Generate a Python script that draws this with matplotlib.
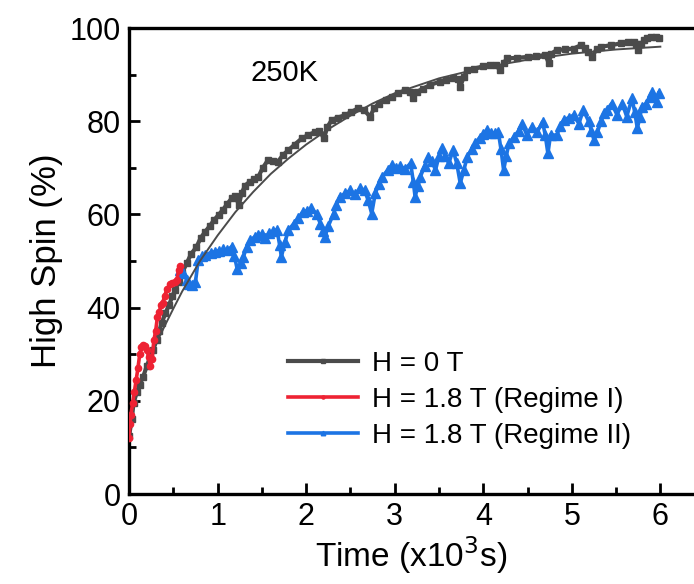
import matplotlib
matplotlib.use('Agg')
import matplotlib.pyplot as plt
from matplotlib.ticker import MultipleLocator

# H = 0 T data (time in 10^3 s, high spin %)
t_zero = [0.00, 0.03, 0.05, 0.09, 0.12, 0.16, 0.20, 0.24, 0.27, 0.31, 0.34, 0.37,
          0.41, 0.45, 0.49, 0.52, 0.56, 0.60, 0.65, 0.70, 0.76, 0.81, 0.86, 0.91,
          0.96, 1.01, 1.06, 1.11, 1.16, 1.20, 1.24, 1.27, 1.31, 1.36, 1.41, 1.46,
          1.51, 1.57, 1.62, 1.68, 1.74, 1.80, 1.87, 1.95, 2.02, 2.10, 2.15, 2.20,
          2.24, 2.29, 2.36, 2.44, 2.51, 2.59, 2.65, 2.72, 2.77, 2.82, 2.90, 2.97,
          3.04, 3.12, 3.17, 3.21, 3.25, 3.32, 3.40, 3.51, 3.58, 3.66, 3.71, 3.74,
          3.78, 3.82, 3.90, 4.00, 4.08, 4.14, 4.19, 4.23, 4.27, 4.38, 4.50, 4.60,
          4.70, 4.74, 4.77, 4.83, 4.92, 5.02, 5.10, 5.15, 5.18, 5.23, 5.28, 5.33,
          5.44, 5.55, 5.63, 5.70, 5.73, 5.75, 5.78, 5.81, 5.85, 5.89, 5.95, 5.98]
hs_zero = [12.5, 16.0, 19.5, 22.0, 23.5, 25.2, 27.5, 29.5, 30.9, 33.0, 35.0, 36.8,
           38.8, 40.5, 42.5, 43.8, 45.5, 47.5, 49.5, 51.5, 53.0, 55.0, 56.3, 57.5,
           58.8, 59.9, 61.0, 62.3, 63.5, 64.0, 62.0, 64.5, 66.2, 67.0, 67.5, 68.1,
           70.0, 71.7, 71.5, 71.3, 72.8, 73.8, 75.0, 76.3, 77.0, 77.7, 78.0, 76.3,
           78.8, 80.3, 80.8, 81.3, 82.0, 82.8, 82.5, 81.0, 82.8, 83.8, 84.5, 85.3,
           86.0, 86.7, 86.3, 84.9, 86.3, 87.0, 87.8, 88.5, 88.8, 89.2, 89.0, 87.4,
           89.5, 91.0, 91.3, 91.8, 92.1, 92.0, 91.0, 92.5, 93.5, 93.6, 93.8, 94.0,
           94.2, 92.5, 94.5, 95.3, 95.4, 95.6, 96.3, 95.8, 94.9, 93.8, 95.5, 96.0,
           96.3, 96.7, 96.9, 97.0, 96.5, 95.3, 96.5, 97.4, 97.8, 98.1, 98.0, 97.9]

# fitted curve for H = 0 T
t_fit = [0.0, 0.1, 0.2, 0.3, 0.4, 0.5, 0.6, 0.8, 1.0, 1.2, 1.4, 1.6, 1.8, 2.0,
         2.25, 2.5, 2.75, 3.0, 3.5, 4.0, 4.5, 5.0, 5.5, 6.0]
hs_fit = [16.5, 22.5, 27.5, 32.0, 36.0, 39.8, 43.5, 50.0, 55.5, 60.5, 64.8, 68.7,
          72.0, 75.0, 78.3, 81.2, 83.8, 86.0, 89.2, 91.5, 93.2, 94.5, 95.4, 96.0]

# H = 1.8 T, regime I
t_reg1 = [0.00, 0.01, 0.02, 0.04, 0.06, 0.08, 0.10, 0.12, 0.14, 0.16, 0.18, 0.20,
          0.22, 0.24, 0.26, 0.28, 0.30, 0.32, 0.34, 0.36, 0.38, 0.40, 0.43, 0.46,
          0.49, 0.52, 0.54, 0.56, 0.58]
hs_reg1 = [12.0, 15.0, 17.0, 19.5, 22.0, 24.5, 27.0, 30.0, 31.5, 32.0, 31.8, 31.0,
           29.5, 27.5, 29.0, 33.0, 35.0, 38.0, 39.0, 40.5, 41.0, 42.5, 44.0, 45.0,
           45.2, 45.5, 46.0, 48.0, 49.0]

# H = 1.8 T, regime II
t_reg2 = [0.58, 0.61, 0.65, 0.68, 0.71, 0.75, 0.78, 0.82, 0.86, 0.92, 0.97, 1.01,
          1.06, 1.11, 1.16, 1.19, 1.22, 1.26, 1.29, 1.33, 1.37, 1.42, 1.46, 1.50,
          1.54, 1.58, 1.63, 1.67, 1.70, 1.72, 1.76, 1.80, 1.86, 1.91, 1.96, 2.01,
          2.06, 2.12, 2.16, 2.19, 2.21, 2.25, 2.31, 2.34, 2.38, 2.44, 2.50, 2.55,
          2.61, 2.66, 2.70, 2.74, 2.78, 2.82, 2.86, 2.92, 2.97, 3.02, 3.06, 3.12,
          3.18, 3.21, 3.23, 3.26, 3.29, 3.34, 3.38, 3.42, 3.46, 3.50, 3.53, 3.57,
          3.61, 3.66, 3.70, 3.74, 3.78, 3.82, 3.87, 3.91, 3.96, 4.00, 4.04, 4.09,
          4.13, 4.17, 4.20, 4.23, 4.26, 4.29, 4.35, 4.40, 4.44, 4.49, 4.55, 4.61,
          4.67, 4.70, 4.73, 4.76, 4.83, 4.87, 4.91, 4.97, 5.02, 5.08, 5.13, 5.19,
          5.22, 5.25, 5.29, 5.33, 5.36, 5.40, 5.45, 5.51, 5.57, 5.62, 5.68, 5.71,
          5.74, 5.77, 5.79, 5.84, 5.88, 5.91, 5.96, 5.98]
hs_reg2 = [48.0, 47.4, 46.0, 45.0, 44.8, 45.5, 50.2, 51.0, 51.3, 51.8, 52.0, 52.2,
           52.5, 52.3, 53.1, 51.0, 48.4, 49.5, 50.9, 53.0, 54.5, 55.2, 55.6, 55.8,
           55.0, 56.0, 56.5, 56.7, 53.5, 50.9, 54.0, 56.7, 58.0, 59.2, 60.5, 60.8,
           61.3, 60.0, 58.0, 56.5, 55.2, 57.5, 60.2, 62.0, 63.8, 64.5, 65.2, 64.3,
           65.6, 65.2, 63.0, 60.2, 64.5, 66.5, 68.1, 69.5, 70.6, 70.0, 70.3, 69.8,
           71.0, 67.0, 63.8, 66.0, 68.1, 70.5, 72.4, 71.5, 69.5, 72.5, 74.2, 72.5,
           71.0, 73.8, 71.0, 66.7, 69.5, 72.4, 74.0, 75.3, 76.5, 77.3, 78.1, 77.5,
           77.5, 77.7, 74.0, 69.5, 72.5, 75.3, 76.7, 78.0, 79.5, 77.1, 78.8, 77.7,
           79.9, 77.0, 73.1, 77.1, 77.0, 79.0, 80.3, 80.8, 81.3, 79.5, 82.4, 80.0,
           78.0, 76.0, 77.7, 80.0, 81.7, 82.5, 83.8, 81.4, 83.8, 81.0, 84.9, 82.0,
           78.5, 81.0, 83.1, 83.8, 85.2, 86.3, 84.2, 86.0]

labels = ['H = 0 T', 'H = 1.8 T (Regime I)', 'H = 1.8 T (Regime II)']

GRAY = '#4b4b4b'
RED = '#ee2233'
BLUE = '#1c74e4'

plt.rcParams['font.family'] = ['Liberation Sans', 'DejaVu Sans']

fig = plt.figure(figsize=(6.94, 5.84), dpi=100)
ax = fig.add_axes([0.186, 0.154, 0.814, 0.798])

ax.plot(t_fit, hs_fit, color=GRAY, lw=1.4, zorder=3)
ax.plot(t_zero, hs_zero, color=GRAY, lw=3, marker='s', ms=5, label=labels[0], zorder=2)
ax.plot(t_reg1, hs_reg1, color=RED, lw=2.6, marker='o', ms=4.5, label=labels[1], zorder=4)
ax.plot(t_reg2, hs_reg2, color=BLUE, lw=2.6, marker='^', ms=6.5, label=labels[2], zorder=2)

ax.set_xlim(0, 6.38)
ax.set_ylim(0, 100)
ax.xaxis.set_major_locator(MultipleLocator(1))
ax.xaxis.set_minor_locator(MultipleLocator(0.5))
ax.yaxis.set_major_locator(MultipleLocator(20))
ax.yaxis.set_minor_locator(MultipleLocator(10))

for side in ['left', 'bottom', 'top']:
    ax.spines[side].set_linewidth(2.4)
ax.spines['right'].set_visible(False)
ax.tick_params(which='major', direction='in', length=8, width=2, labelsize=22, pad=6)
ax.tick_params(which='minor', direction='in', length=5, width=2)
ax.tick_params(top=False, right=False, which='both')

ax.set_xlabel('Time (x10$^3$s)', fontsize=24, labelpad=1)
ax.set_ylabel('High Spin (%)', fontsize=25, labelpad=5)

ax.text(1.37, 90.3, '250K', fontsize=21, ha='left', va='center')

leg = ax.legend(loc='center left', bbox_to_anchor=(0.262, 0.202), frameon=False,
                fontsize=20, handlelength=2.5, labelspacing=0.36, handletextpad=0.5,
                borderaxespad=0, numpoints=1, markerscale=0.5)

fig.savefig('out.png', dpi=100)
